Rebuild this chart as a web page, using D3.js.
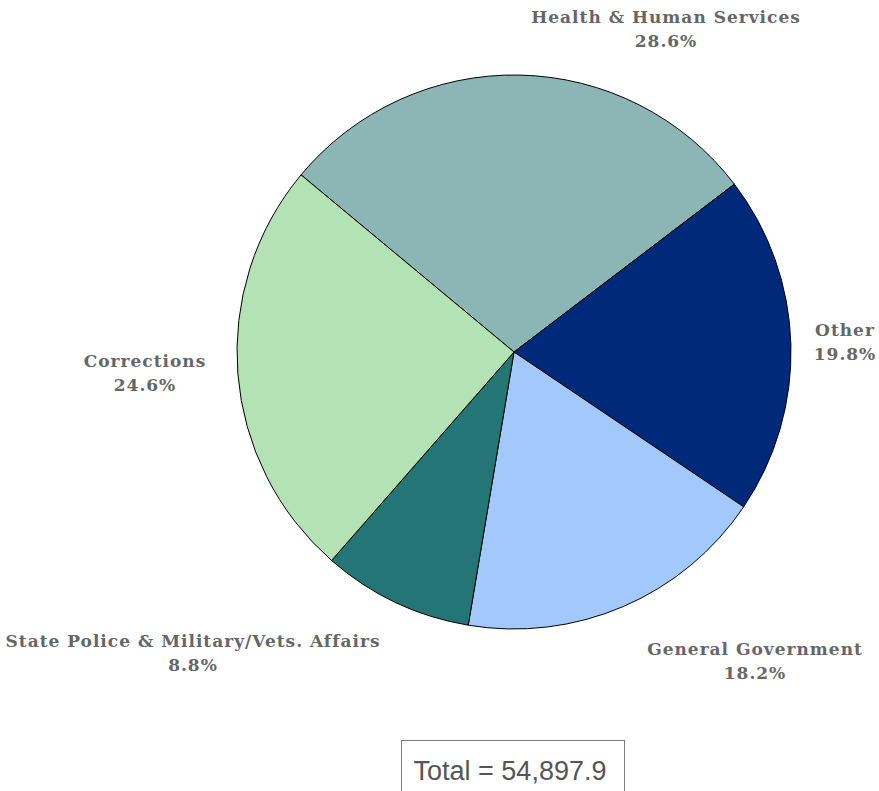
<!DOCTYPE html>
<html>
<head>
<meta charset="utf-8">
<script src="https://cdn.jsdelivr.net/npm/d3@7"></script>
<style>
  html, body { margin: 0; padding: 0; background: #fff; }
  svg { display: block; }
</style>
</head>
<body>
<svg id="chart" width="879" height="791"></svg>
<script>
// Share of spending by functional area (percent of total)
const categories = [
  "Health & Human Services",
  "Other",
  "General Government",
  "State Police & Military/Vets. Affairs",
  "Corrections"
];
const shares = [28.6, 19.8, 18.2, 8.8, 24.6];
const sliceColors = ["#8cb5b5", "#00297a", "#a3c8fc", "#247575", "#b3e2b5"];
const totalLabel = "Total = 54,897.9";

const svg = d3.select("#chart");
const cx = 514, cy = 352, radius = 277;
const startDeg = -50.25;

const pie = d3.pie()
  .value(d => d.value)
  .sort(null)
  .startAngle(startDeg * Math.PI / 180)
  .endAngle((startDeg + 360) * Math.PI / 180);

const data = categories.map((c, i) => ({ name: c, value: shares[i], color: sliceColors[i] }));
const arcs = pie(data);
const arc = d3.arc().innerRadius(0).outerRadius(radius);

const g = svg.append("g").attr("transform", `translate(${cx},${cy})`);
g.selectAll("path")
  .data(arcs)
  .join("path")
  .attr("d", arc)
  .attr("fill", d => d.data.color)
  .attr("stroke", "#000")
  .attr("stroke-width", 1)
  .attr("stroke-linejoin", "round");

// Label anchor points (center of the two-line label block)
const labelPos = [
  [666, 17],
  [845, 330],
  [755, 649],
  [193, 641],
  [145, 361]
];

const labels = svg.append("g")
  .attr("font-family", "'DejaVu Serif', serif")
  .attr("font-weight", "bold")
  .attr("font-size", 17)
  .attr("fill", "#666")
  .attr("letter-spacing", 1.0)
  .attr("text-anchor", "middle");

arcs.forEach((a, i) => {
  const [x, y] = labelPos[i];
  const t = labels.append("text").attr("x", x).attr("y", y + 6);
  t.append("tspan").attr("x", x).text(a.data.name);
  t.append("tspan").attr("x", x).attr("dy", 24)
    .text(d3.format(".1f")(a.data.value) + "%");
});

// Total box
svg.append("rect")
  .attr("x", 401.5).attr("y", 740.5)
  .attr("width", 223).attr("height", 60)
  .attr("fill", "#fff")
  .attr("stroke", "#808080")
  .attr("stroke-width", 1);
svg.append("text")
  .attr("x", 510).attr("y", 780)
  .attr("text-anchor", "middle")
  .attr("font-family", "'Liberation Sans', Arial, sans-serif")
  .attr("font-size", 27)
  .attr("fill", "#555")
  .text(totalLabel);
</script>
</body>
</html>
